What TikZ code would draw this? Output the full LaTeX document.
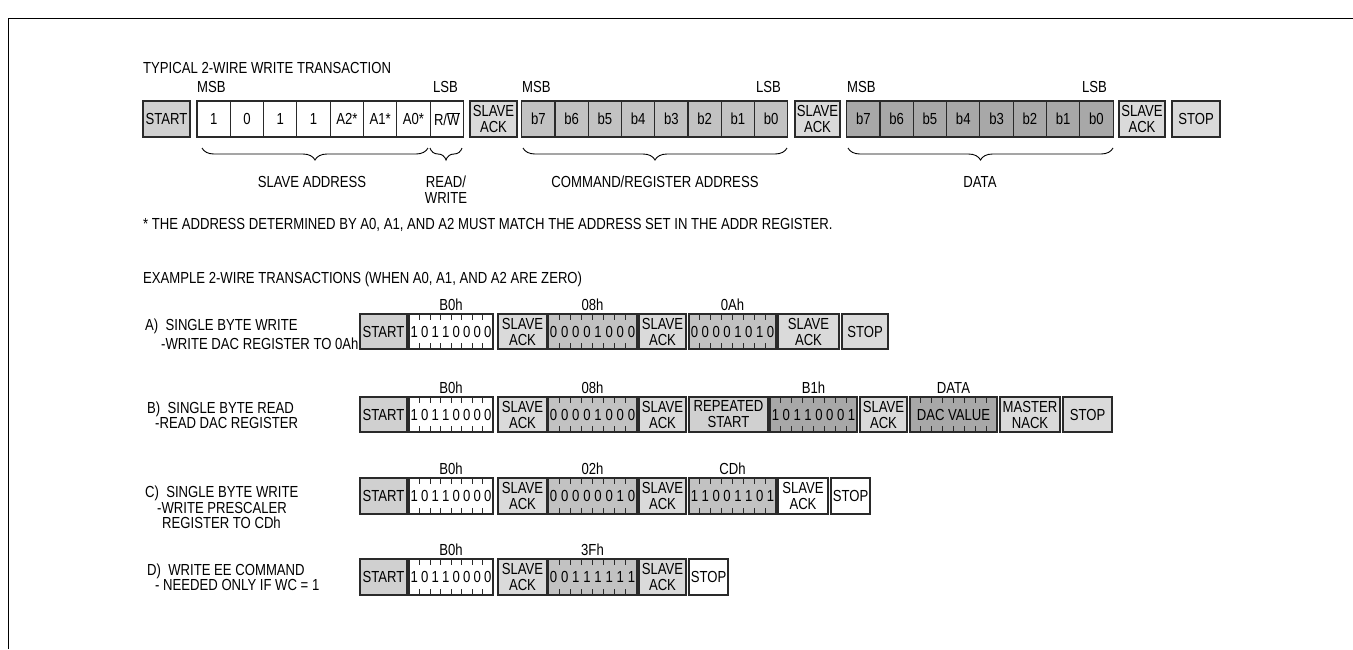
\documentclass[tikz,border=0pt]{standalone}
\usepackage{fontspec}
\setmainfont[FakeStretch=0.82]{Liberation Sans}
\usetikzlibrary{calc,decorations.pathreplacing}
\definecolor{gStart}{HTML}{D0D0D0}
\definecolor{gAck}{HTML}{DADADA}
\definecolor{gMid}{HTML}{C2C2C2}
\definecolor{gDark}{HTML}{A8A8A8}
\definecolor{lineC}{HTML}{2A2A2A}
\tikzset{
  box/.style={draw=lineC, line width=1.1pt, inner sep=0pt, outer sep=0pt, align=center, font=\fontsize{16}{16}\selectfont},
  bit/.style={inner sep=0pt, font=\fontsize{16}{16}\selectfont},
  tick/.style={draw=lineC, line width=0.9pt},
  lbl/.style={inner sep=0pt, anchor=base west, font=\fontsize{16}{16}\selectfont},
  clbl/.style={inner sep=0pt, anchor=base, font=\fontsize{16}{16}\selectfont},
  brc/.style={draw=black, line width=0.9pt, decorate, decoration={brace, amplitude=12pt, mirror}},
  frame/.style={draw=black, line width=1pt}
}
\newcommand\bx[7]{%
  \node[box, fill=#6, minimum width={#4pt-#2pt}, minimum height={#5pt-#3pt}, anchor=north west] (#1) at (#2,#3) {#7};}
\newcommand\bitbox[8]{%
  \node[box, fill=#6, minimum width={#4pt-#2pt}, minimum height={#5pt-#3pt}, anchor=north west] (#1) at (#2,#3) {#8};
  \foreach \bb [count=\ii] in {#7} {
    \node[bit] at ($(#1.west)!{(\ii-0.5)/8}!(#1.east)$) {\bb};
  }
  \foreach \ii in {1,...,7} {
    \draw[tick] ($(#1.north west)!{\ii/8}!(#1.north east)$) -- ++(0,6);
    \draw[tick] ($(#1.south west)!{\ii/8}!(#1.south east)$) -- ++(0,-6);
  }
}
\begin{document}
\begin{tikzpicture}[x=1pt,y=-1pt]
\useasboundingbox (0,0) rectangle (1353,649);
\fill[white] (0,0) rectangle (1353,649);
\draw[frame] (8,649) -- (8,18) -- (1353,18);

% ---------- typical transaction ----------
\node[lbl] (title) at (143,73) {TYPICAL 2-WIRE WRITE TRANSACTION};
\bx{tstart}{143}{101}{190}{137}{gStart}{START}
\foreach \t [count=\i] in {1,0,1,1,A2*,A1*,A0*,{R/$\overline{\mbox{W}}$}} {
  \pgfmathsetmacro\xl{197+(\i-1)*33.3}
  \node[box, fill=white, minimum width=33.3pt, minimum height=36pt, anchor=north west] (a\i) at (\xl,101) {\t};
}
\bx{tack1}{470}{101}{517}{137}{gAck}{SLAVE\\ACK}
\foreach \t [count=\i] in {b7,b6,b5,b4,b3,b2,b1,b0} {
  \pgfmathsetmacro\xl{521.7+(\i-1)*33.25}
  \node[box, fill=gMid, minimum width=33.25pt, minimum height=36pt, anchor=north west] (c\i) at (\xl,101) {\t};
}
\bx{tack2}{795}{101}{840}{137}{gAck}{SLAVE\\ACK}
\foreach \t [count=\i] in {b7,b6,b5,b4,b3,b2,b1,b0} {
  \pgfmathsetmacro\xl{846.7+(\i-1)*33.3}
  \node[box, fill=gDark, minimum width=33.3pt, minimum height=36pt, anchor=north west] (d\i) at (\xl,101) {\t};
}
\bx{tack3}{1119}{101}{1165}{137}{gAck}{SLAVE\\ACK}
\bx{tstop}{1172}{101}{1220}{137}{gAck}{STOP}

\node[lbl] (msb1) at (197,92) {MSB};
\node[lbl, anchor=base east] (lsb1) at (458,92) {LSB};
\node[lbl] (msb2) at (522,92) {MSB};
\node[lbl, anchor=base east] (lsb2) at (781,92) {LSB};
\node[lbl] (msb3) at (847,92) {MSB};
\node[lbl, anchor=base east] (lsb3) at (1107,92) {LSB};

\draw[brc] (202,148) -- (428,148);
\draw[brc] (430,148) -- (462,148);
\draw[brc] (523,148) -- (787,148);
\draw[brc] (848,148) -- (1113,148);
\node[clbl] (bl1) at (312,187) {SLAVE ADDRESS};
\node[clbl] (bl2) at (446,187) {READ/};
\node[clbl] (bl3) at (446,203) {WRITE};
\node[clbl] (bl4) at (655,187) {COMMAND/REGISTER ADDRESS};
\node[clbl] (bl5) at (980,187) {DATA};

\node[lbl] (foot) at (143,229) {* THE ADDRESS DETERMINED BY A0, A1, AND A2 MUST MATCH THE ADDRESS SET IN THE ADDR REGISTER.};

% ---------- examples ----------
\node[lbl] (extitle) at (143,283) {EXAMPLE 2-WIRE TRANSACTIONS (WHEN A0, A1, AND A2 ARE ZERO)};

% Row A
\node[lbl] (la1) at (145,330) {A)\ \ SINGLE BYTE WRITE};
\node[lbl] (la2) at (161,349) {-WRITE DAC REGISTER TO 0Ah};
\bx{astart}{360}{314}{407}{349}{gStart}{START}
\bitbox{aaddr}{409}{314}{493}{349}{white}{1,0,1,1,0,0,0,0}{}
\bx{aack1}{498}{314}{547}{349}{gAck}{SLAVE\\ACK}
\bitbox{acmd}{548}{314}{637}{349}{gMid}{0,0,0,0,1,0,0,0}{}
\bx{aack2}{639}{314}{686}{349}{gAck}{SLAVE\\ACK}
\bitbox{adata}{689}{314}{776}{349}{gMid}{0,0,0,0,1,0,1,0}{}
\bx{aack3}{778}{314}{839}{349}{gAck}{SLAVE\\ACK}
\bx{astop}{842}{314}{888}{349}{gAck}{STOP}
\node[clbl] at ($(aaddr.north)+(0,-4)$) {B0h};
\node[clbl] at ($(acmd.north)+(0,-4)$) {08h};
\node[clbl] at ($(adata.north)+(0,-4)$) {0Ah};

% Row B
\node[lbl] (lb1) at (147,413) {B)\ \ SINGLE BYTE READ};
\node[lbl] (lb2) at (155,428) {-READ DAC REGISTER};
\bx{bstart}{360}{397}{407}{432}{gStart}{START}
\bitbox{baddr}{409}{397}{493}{432}{white}{1,0,1,1,0,0,0,0}{}
\bx{back1}{498}{397}{547}{432}{gAck}{SLAVE\\ACK}
\bitbox{bcmd}{548}{397}{637}{432}{gMid}{0,0,0,0,1,0,0,0}{}
\bx{back2}{639}{397}{686}{432}{gAck}{SLAVE\\ACK}
\bx{brep}{689}{397}{768}{432}{gStart}{REPEATED\\START}
\bitbox{baddr2}{770}{397}{857}{432}{gDark}{1,0,1,1,0,0,0,1}{}
\bx{back3}{860}{397}{907}{432}{gAck}{SLAVE\\ACK}
\bitbox{bdata}{910}{397}{997}{432}{gDark}{,,,,,,,}{DAC VALUE}
\bx{bnack}{1000}{397}{1060}{432}{gAck}{MASTER\\NACK}
\bx{bstop}{1063}{397}{1112}{432}{gAck}{STOP}
\node[clbl] at ($(baddr.north)+(0,-4)$) {B0h};
\node[clbl] at ($(bcmd.north)+(0,-4)$) {08h};
\node[clbl] at ($(baddr2.north)+(0,-4)$) {B1h};
\node[clbl] at ($(bdata.north)+(0,-4)$) {DATA};

% Row C
\node[lbl] (lc1) at (145,497) {C)\ \ SINGLE BYTE WRITE};
\node[lbl] (lc2) at (157,513) {-WRITE PRESCALER};
\node[lbl] (lc3) at (162,528) {REGISTER TO CDh};
\bx{cstart}{360}{478}{407}{514}{gStart}{START}
\bitbox{caddr}{409}{478}{493}{514}{white}{1,0,1,1,0,0,0,0}{}
\bx{cack1}{498}{478}{547}{514}{gAck}{SLAVE\\ACK}
\bitbox{ccmd}{548}{478}{637}{514}{gMid}{0,0,0,0,0,0,1,0}{}
\bx{cack2}{639}{478}{686}{514}{gAck}{SLAVE\\ACK}
\bitbox{cdata}{689}{478}{776}{514}{gMid}{1,1,0,0,1,1,0,1}{}
\bx{cack3}{778}{478}{828}{514}{white}{SLAVE\\ACK}
\bx{cstop}{831}{478}{870}{514}{white}{STOP}
\node[clbl] at ($(caddr.north)+(0,-4)$) {B0h};
\node[clbl] at ($(ccmd.north)+(0,-4)$) {02h};
\node[clbl] at ($(cdata.north)+(0,-4)$) {CDh};

% Row D
\node[lbl] (ld1) at (147,575) {D)\ \ WRITE EE COMMAND};
\node[lbl] (ld2) at (155,590) {- NEEDED ONLY IF WC = 1};
\bx{dstart}{360}{559}{407}{595}{gStart}{START}
\bitbox{daddr}{409}{559}{493}{595}{white}{1,0,1,1,0,0,0,0}{}
\bx{dack1}{498}{559}{547}{595}{gAck}{SLAVE\\ACK}
\bitbox{dcmd}{548}{559}{637}{595}{gMid}{0,0,1,1,1,1,1,1}{}
\bx{dack2}{639}{559}{686}{595}{gAck}{SLAVE\\ACK}
\bx{dstop}{689}{559}{728}{595}{white}{STOP}
\node[clbl] at ($(daddr.north)+(0,-4)$) {B0h};
\node[clbl] at ($(dcmd.north)+(0,-4)$) {3Fh};
\end{tikzpicture}
\end{document}
